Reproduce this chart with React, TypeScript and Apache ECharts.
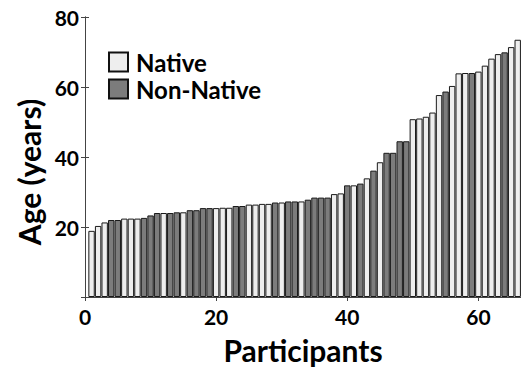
import React, { useEffect, useRef } from "react";
import * as echarts from "echarts";

// Age of each participant, sorted (participant 1..66)
const ages: number[] = [
  18.9, 20.3, 21.3, 22.0, 22.0, 22.4, 22.4, 22.4, 22.6, 23.3,
  24.0, 24.0, 24.0, 24.2, 24.2, 24.8, 24.8, 25.4, 25.4, 25.4,
  25.5, 25.5, 26.0, 26.0, 26.4, 26.4, 26.6, 26.6, 27.0, 27.0,
  27.3, 27.3, 27.3, 27.8, 28.4, 28.4, 28.4, 29.4, 29.6, 31.9,
  31.9, 32.4, 33.9, 36.1, 38.5, 41.2, 41.2, 44.5, 44.5, 50.8,
  51.0, 51.5, 52.7, 57.7, 58.7, 60.3, 63.9, 64.0, 64.0, 64.4,
  66.1, 68.1, 69.4, 69.9, 71.4, 73.5,
];
// N = Native, X = Non-Native
const groups: string[] = [
  "N", "N", "N", "X", "X", "N", "N", "N", "X", "X",
  "X", "N", "X", "X", "N", "X", "X", "X", "X", "N",
  "N", "N", "X", "X", "N", "N", "N", "N", "X", "N",
  "X", "X", "N", "X", "X", "X", "X", "N", "N", "X",
  "N", "X", "N", "X", "N", "X", "X", "X", "X", "N",
  "N", "N", "N", "N", "X", "N", "N", "N", "X", "N",
  "N", "N", "N", "X", "N", "N",
];
const seriesNames = ["Native", "Non-Native"];
const xTicks = [0, 20, 40, 60];
const yTicks = [20, 40, 60, 80];

const FONT = "Lato, 'Open Sans', sans-serif";

export default function App() {
  const ref = useRef<HTMLDivElement>(null);
  useEffect(() => {
    if (!ref.current) return;
    const chart = echarts.init(ref.current, undefined, { renderer: "svg" });
    const nativeData: number[][] = [];
    const nonNativeData: number[][] = [];
    ages.forEach((a, i) => {
      if (groups[i] === "N") nativeData.push([i + 1, a]);
      else nonNativeData.push([i + 1, a]);
    });
    const axisLine = { show: true, lineStyle: { color: "#444", width: 1 } };
    const tick = { show: true, inside: true, length: 4, lineStyle: { color: "#444" } };
    chart.setOption({
      animation: false,
      backgroundColor: "#fff",
      textStyle: { fontFamily: FONT },
      grid: { left: 85, right: 0, top: 17, bottom: 69, containLabel: false },
      legend: {
        orient: "vertical",
        left: 103,
        top: 45,
        itemWidth: 19,
        itemHeight: 19,
        itemGap: 3,
        icon: "rect",
        data: seriesNames,
        itemStyle: { borderColor: "#111", borderWidth: 2 },
        textStyle: {
          fontFamily: FONT,
          fontSize: 24,
          lineHeight: 24,
          fontWeight: "bold",
          color: "#000",
          padding: [0, 0, 0, 3],
        },
      },
      xAxis: [
        {
          type: "value",
          min: 0,
          max: 66.5,
          interval: 20,
          axisLine,
          axisTick: tick,
          splitLine: { show: false },
          axisLabel: {
            formatter: (v: number) => (xTicks.includes(v) ? String(v) : ""),
            fontFamily: FONT,
            fontSize: 21,
            fontWeight: "bold",
            color: "#000",
            margin: 9,
            showMaxLabel: false,
          },
          name: "Participants",
          nameLocation: "middle",
          nameGap: 38,
          nameTextStyle: { fontFamily: FONT, fontSize: 30, fontWeight: "bold", color: "#000" },
        },
        {
          type: "value",
          position: "top",
          min: 0,
          max: 66.5,
          interval: 20,
          axisLine,
          axisTick: tick,
          axisLabel: { show: false },
          splitLine: { show: false },
        },
      ],
      yAxis: [
        {
          type: "value",
          min: 0,
          max: 80,
          interval: 20,
          axisLine,
          axisTick: tick,
          splitLine: { show: false },
          axisLabel: {
            formatter: (v: number) => (yTicks.includes(v) ? String(v) : ""),
            fontFamily: FONT,
            fontSize: 21,
            fontWeight: "bold",
            color: "#000",
            margin: 6,
          },
          name: "Age (years)",
          nameLocation: "middle",
          nameGap: 40,
          nameTextStyle: {
            fontFamily: FONT,
            fontSize: 30,
            fontWeight: "bold",
            color: "#000",
            padding: [0, 30, 0, 0],
          },
        },
        {
          type: "value",
          position: "right",
          min: 0,
          max: 80,
          interval: 20,
          axisLine,
          axisTick: tick,
          axisLabel: { show: false },
          splitLine: { show: false },
        },
      ],
      series: [
        {
          name: seriesNames[0],
          type: "bar",
          data: nativeData,
          barWidth: 6.4,
          barGap: "-100%",
          itemStyle: { color: "#eeeeee", borderColor: "#1a1a1a", borderWidth: 1 },
        },
        {
          name: seriesNames[1],
          type: "bar",
          data: nonNativeData,
          barWidth: 6.4,
          barGap: "-100%",
          itemStyle: { color: "#7c7c7c", borderColor: "#1a1a1a", borderWidth: 1 },
        },
      ],
    });
    return () => chart.dispose();
  }, []);
  return (
    <div
      ref={ref}
      style={{ position: "fixed", left: 0, top: 0, width: 521, height: 370, background: "#fff" }}
    />
  );
}
